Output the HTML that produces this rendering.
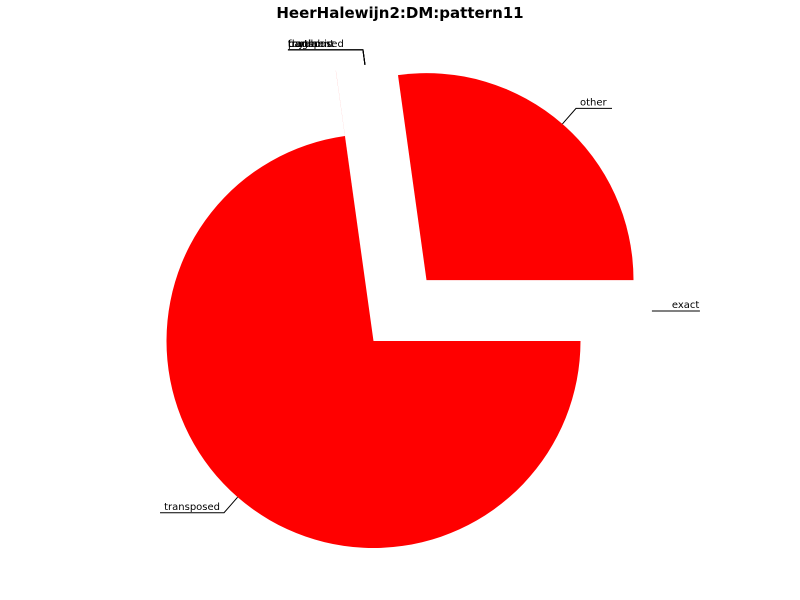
<!DOCTYPE html>
<html><head><meta charset="utf-8"><style>
body{margin:0;background:#fff;}
svg{display:block;font-family:"DejaVu Sans","Liberation Sans",sans-serif;}
</style></head><body>
<svg id="c" width="800" height="600">
<text x="400" y="18" text-anchor="middle" font-size="15" font-weight="bold">HeerHalewijn2:DM:pattern11</text>
</svg>
<script>
const labels=["exact","other","tonal","fragment","partial","rhythmic","transposed","transposed"];
const values=[0.001,27.2,0.001,0.001,0.001,0.001,0.001,72.8];
const explode=[0.245,0.39,0.32,0.32,0.32,0.32,0.32,0];
const NS="http://www.w3.org/2000/svg";
const svg=document.getElementById('c');
const cx=373.5,cy=341,R=207;
const total=values.reduce((a,b)=>a+b,0);
function mk(t,a){const e=document.createElementNS(NS,t);for(const k in a)e.setAttribute(k,a[k]);svg.appendChild(e);return e;}
let start=0;
values.forEach((v,i)=>{
  const sweep=v/total*2*Math.PI, mid=start+sweep/2;
  const ox=cx+Math.cos(mid)*explode[i]*R, oy=cy-Math.sin(mid)*explode[i]*R;
  const x1=ox+R*Math.cos(start),y1=oy-R*Math.sin(start);
  const x2=ox+R*Math.cos(start+sweep),y2=oy-R*Math.sin(start+sweep);
  const p=mk('path',{d:`M${ox},${oy} L${x1},${y1} A${R},${R} 0 ${sweep>Math.PI?1:0} 0 ${x2},${y2} Z`,fill:'#ff0000'});
  
  
  const tiny=v/total<0.01;
  const ex=ox+R*Math.cos(mid),ey=oy-R*Math.sin(mid);
  let lx=ox+1.1*R*Math.cos(mid),ly=oy-1.1*R*Math.sin(mid);
  const right=Math.cos(mid)>=0;
  let pts,t;
  if(tiny&&i===0){
    ly-=30;
    pts=`${lx},${ly} ${lx+48},${ly}`;
    t=mk('text',{x:lx+20,y:ly-3,'font-size':10});
  }else if(tiny){
    lx+=30;
    pts=`${lx+2},${ly+15} ${lx},${ly} ${lx-75},${ly}`;
    t=mk('text',{x:lx-75,y:ly-3,'font-size':10});
  }else{
    const tw=labels[i].length*5.6;
    const endx=right?lx+tw+8:lx-tw-8;
    pts=`${ex},${ey} ${lx},${ly} ${endx},${ly}`;
    t=mk('text',{x:right?lx+4:lx-4,y:ly-3,'font-size':10,'text-anchor':right?'start':'end'});
  }
  const ln=mk('polyline',{points:pts,fill:'none',stroke:'#000','stroke-width':1});
  
  
  t.textContent=labels[i];
  
  
  start+=sweep;
});
</script>
</body></html>
